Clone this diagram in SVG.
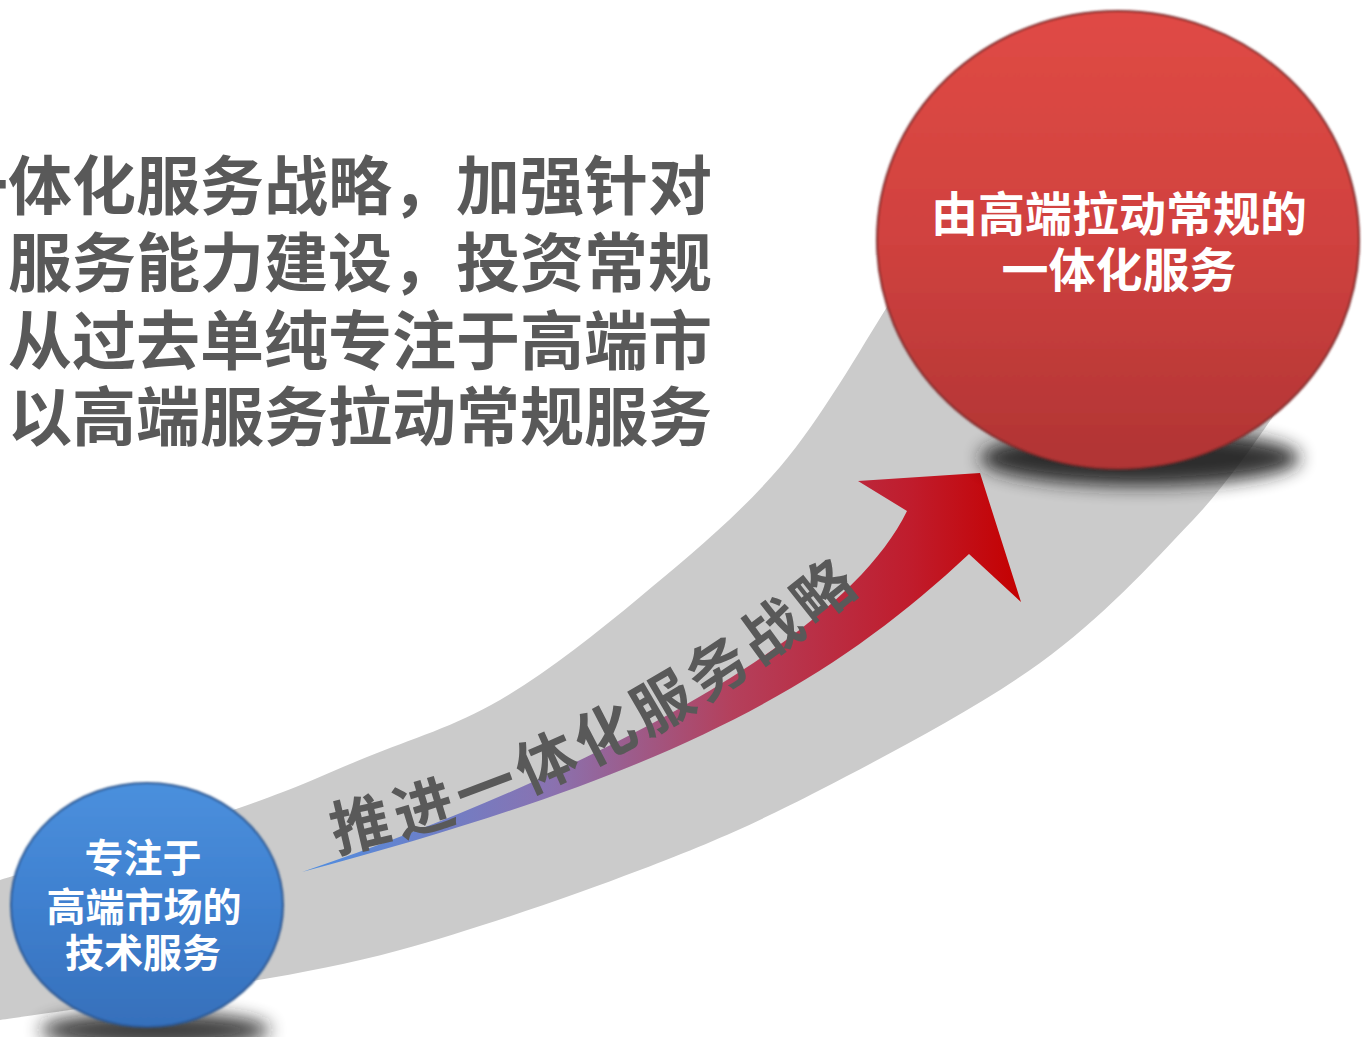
<svg xmlns="http://www.w3.org/2000/svg" width="1364" height="1037" viewBox="0 0 1364 1037">
  <style>
    .para { font-family: "Noto Sans CJK SC", "Liberation Sans", sans-serif; font-weight: bold; font-size: 64px; fill: #595959; text-anchor: end; }
    .node-text { font-family: "Noto Sans CJK SC", "Liberation Sans", sans-serif; font-weight: bold; fill: #ffffff; text-anchor: middle; }
    .arrow-text { font-family: "Noto Sans CJK SC", "Liberation Sans", sans-serif; font-weight: bold; font-size: 60px; fill: #595959; }
  </style>
  <defs>
    <linearGradient id="redFill" x1="0" y1="0" x2="0" y2="1">
      <stop offset="0" stop-color="#e04a45"/>
      <stop offset="0.5" stop-color="#d0423f"/>
      <stop offset="1" stop-color="#b03434"/>
    </linearGradient>
    <linearGradient id="blueFill" x1="0" y1="0" x2="0" y2="1">
      <stop offset="0" stop-color="#4b90dd"/>
      <stop offset="0.5" stop-color="#3f80cf"/>
      <stop offset="1" stop-color="#3670bb"/>
    </linearGradient>
    <linearGradient id="arrowFill" gradientUnits="userSpaceOnUse" x1="300" y1="0" x2="1020" y2="0">
      <stop offset="0" stop-color="#4d8ee2"/>
      <stop offset="0.35" stop-color="#8a72b0"/>
      <stop offset="0.6" stop-color="#b4405c"/>
      <stop offset="0.85" stop-color="#c01c2c"/>
      <stop offset="1" stop-color="#c40000"/>
    </linearGradient>
    <filter id="blur" x="-50%" y="-50%" width="200%" height="200%">
      <feGaussianBlur stdDeviation="9"/>
    </filter>
    <filter id="soft" x="-5%" y="-5%" width="110%" height="110%">
      <feGaussianBlur stdDeviation="0.8"/>
    </filter>
    <path id="textCurve" d="M 330,826 Q 606,771 862,553"/>
  </defs>

  <rect width="1364" height="1037" fill="#ffffff"/>

  <g id="connectors">
    <path id="band" fill="#cbcbcb" d="M 0,880 C 38.8,868.3 171.8,830.5 233,810 C 294.2,789.5 322.5,775.3 367,757 C 411.5,738.7 454.5,726.7 500,700 C 545.5,673.3 593.3,635.8 640,597 C 686.7,558.2 738.8,515.3 780,467 C 821.2,418.7 862,346.5 887,307 C 912,267.5 922.8,242.8 930,230 L 1000,150 L 1330,330 L 1295,385 C 1280,405 1236.3,474.5 1193,520 C 1149.7,565.5 1102.2,618 1040,663 C 977.8,708 886.7,755.5 820,790 C 753.3,824.5 710,843.3 640,870 C 570,896.7 473.3,930 400,950 C 326.7,970 266.7,978.3 200,990 C 133.3,1001.7 33.3,1015 0,1020 Z"/>
    <path id="arrow" fill="url(#arrowFill)" d="M 302,872 C 602,770 847,635 907,511 L 858,481 L 980,473 L 1021,602 L 969,554 C 819,695 652,779 302,872 Z"/>
    <text class="arrow-text" dominant-baseline="central" letter-spacing="5"><textPath href="#textCurve">推进一体化服务战略</textPath></text>
  </g>

  <g id="paragraph">
    <text class="para" x="712" y="209">一体化服务战略，加强针对</text>
    <text class="para" x="712" y="286">服务能力建设，投资常规</text>
    <text class="para" x="712" y="364">从过去单纯专注于高端市</text>
    <text class="para" x="712" y="440">以高端服务拉动常规服务</text>
  </g>

  <g id="node-high">
    <ellipse cx="1140" cy="458" rx="160" ry="28" fill="#1e1e1e" opacity="0.9" filter="url(#blur)"/>
    <ellipse cx="1118" cy="240" rx="241" ry="229" fill="url(#redFill)" stroke="#7e2a2a" stroke-width="2" filter="url(#soft)"/>
    <text class="node-text" font-size="47" x="1119" y="231">由高端拉动常规的</text>
    <text class="node-text" font-size="47" x="1119" y="287">一体化服务</text>
  </g>

  <g id="node-low">
    <ellipse cx="155" cy="1030" rx="115" ry="18" fill="#1e1e1e" opacity="0.85" filter="url(#blur)"/>
    <ellipse cx="147" cy="905" rx="136" ry="122" fill="url(#blueFill)" stroke="#2a5590" stroke-width="2" filter="url(#soft)"/>
    <text class="node-text" font-size="39" x="143" y="872">专注于</text>
    <text class="node-text" font-size="39" x="144" y="921">高端市场的</text>
    <text class="node-text" font-size="39" x="143" y="967">技术服务</text>
  </g>
</svg>
